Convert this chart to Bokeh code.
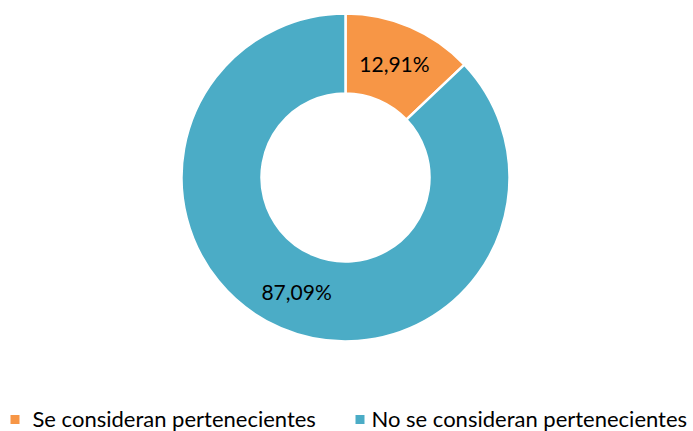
import numpy as np
from bokeh.plotting import figure
from bokeh.models import Range1d
from bokeh.core.properties import value
from bokeh.embed import file_html
from bokeh.resources import INLINE

categories = ["Se consideran pertenecientes", "No se consideran pertenecientes"]
percentages = [12.91, 87.09]
labels = ["12,91%", "87,09%"]
colors = ["#F79646", "#4BACC6"]

W, H = 693, 431
p = figure(width=W, height=H, output_backend="svg", toolbar_location=None,
           x_range=Range1d(0, W), y_range=Range1d(0, H), min_border=0)
p.axis.visible = False
p.grid.visible = False
p.outline_line_color = None
p.background_fill_color = "white"

# layout (pixels within the figure; y measured from bottom)
cx, cy = 345, H - 177
r_out, r_in = 164, 84

frac = np.array(percentages) / sum(percentages)
ends = np.pi / 2 - np.concatenate([[0], np.cumsum(frac)[:-1]]) * 2 * np.pi
starts = ends - frac * 2 * np.pi

p.annular_wedge(x=[cx] * len(frac), y=[cy] * len(frac), inner_radius=r_in, outer_radius=r_out,
                start_angle=list(starts), end_angle=list(ends), fill_color=colors,
                line_color="white", line_width=2.5)

mids = (starts + ends) / 2
r_mid = (r_in + r_out) / 2
lx = cx + r_mid * np.cos(mids)
ly = cy + r_mid * np.sin(mids)
p.text(x=list(lx), y=list(ly), text=labels, text_align="center", text_baseline="middle",
       text_font=value("Lato"), text_font_size="21px", text_color="black")

# legend
leg_sq_x = [14.5, 359.5]
leg_tx_x = [32, 371]
leg_y = 13
p.scatter(x=leg_sq_x, y=[leg_y - 1] * 2, marker="square", size=9, fill_color=colors, line_color=None)
p.text(x=leg_tx_x, y=[leg_y] * 2, text=categories, text_align="left", text_baseline="middle",
       text_font=value("Lato"), text_font_size="22px", text_color="black")

open("out.html", "w").write(file_html(p, INLINE))
